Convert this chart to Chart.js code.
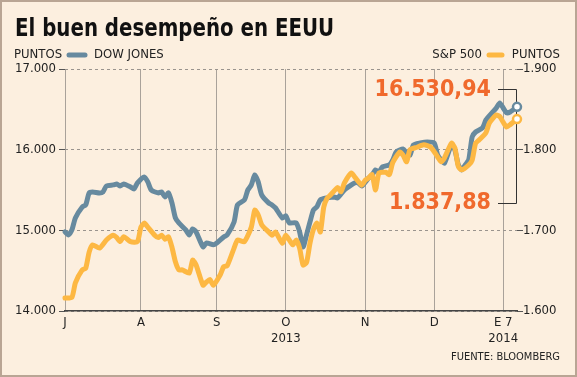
<!DOCTYPE html>
<html>
<head>
<meta charset="utf-8">
<script src="https://cdn.jsdelivr.net/npm/chart.js@4/dist/chart.umd.min.js"></script>
<style>
  html, body { margin: 0; padding: 0; background: #fcefdf; }
  #wrap { width: 577px; height: 377px; }
</style>
</head>
<body>
<div id="wrap"><canvas id="grafico" width="577" height="377"></canvas></div>
<script>
// sesiones bursatiles desde el 1 de julio de 2013 (0) hasta el 7 de enero de 2014 (131)
var monthTicks = [0, 22, 44, 64, 87, 107, 127]
var monthLabels = ['J', 'A', 'S', ['O', '2013'], 'N', 'D', ['E 7', '2014']]

var leftTicks = [14000, 15000, 16000, 17000]
var rightTicks = [1600, 1700, 1800, 1900]

var dowDays = [0, 1, 2, 3, 5, 6, 7, 8, 10, 11, 12, 14, 15, 16, 17, 19, 20, 21, 23, 24,
  25, 27, 28, 29, 30, 31, 32, 33, 35, 36, 37, 38, 40, 41, 43, 44, 46, 47, 49, 50,
  52, 53, 54, 55, 56, 57, 59, 60, 61, 63, 64, 65, 67, 68, 69, 70, 71, 72, 73, 74,
  76, 78, 79, 81, 83, 84, 85, 86, 88, 89, 90, 91, 92, 94, 95, 96, 98, 99, 100, 101,
  103, 105, 107, 108, 109, 110, 112, 113, 114, 115, 116, 117, 118, 119, 121, 122, 124, 125, 126, 127,
  128, 129, 131]
var dowValues = [14980, 14943, 15005, 15154, 15290, 15315, 15464, 15476, 15464, 15476, 15550, 15563, 15575, 15550, 15575, 15538, 15513, 15588, 15662, 15600,
  15501, 15464, 15476, 15414, 15464, 15340, 15154, 15092, 15005, 14943, 15018, 14980, 14795, 14844, 14820, 14844, 14918, 14943, 15104, 15315,
  15377, 15501, 15563, 15687, 15600, 15439, 15340, 15315, 15278, 15154, 15180, 15092, 15092, 14980, 14795, 14943, 15104, 15253, 15290, 15377,
  15402, 15414, 15402, 15501, 15563, 15588, 15588, 15550, 15649, 15687, 15749, 15724, 15786, 15811, 15873, 15972, 16009, 15959, 15934, 16058,
  16083, 16095, 16083, 15934, 15873, 15835, 16058, 15996, 15811, 15749, 15811, 15873, 16157, 16219, 16269, 16368, 16467, 16517, 16579, 16517,
  16455, 16467, 16530.94]

var spDays = [0, 2, 3, 5, 6, 7, 8, 10, 12, 14, 15, 16, 17, 19, 21, 22, 23, 24, 26, 27,
  28, 29, 30, 31, 32, 33, 34, 36, 37, 38, 40, 41, 42, 43, 45, 46, 47, 49, 50, 52,
  54, 55, 56, 57, 59, 60, 61, 63, 64, 66, 67, 68, 69, 70, 71, 72, 73, 74, 75, 76,
  77, 79, 80, 81, 83, 84, 86, 87, 88, 89, 90, 91, 93, 94, 95, 97, 98, 99, 100, 102,
  104, 106, 108, 109, 110, 112, 113, 114, 115, 117, 118, 119, 120, 122, 123, 125, 126, 127, 128, 129,
  131]
var spValues = [1616, 1617, 1635, 1651, 1653, 1673, 1682, 1678, 1688, 1694, 1691, 1686, 1692, 1686, 1686, 1704, 1709, 1704, 1694, 1691,
  1694, 1689, 1692, 1679, 1661, 1651, 1651, 1647, 1663, 1657, 1632, 1636, 1639, 1632, 1645, 1655, 1656, 1678, 1688, 1686,
  1704, 1725, 1719, 1707, 1698, 1694, 1698, 1684, 1694, 1682, 1688, 1678, 1657, 1660, 1684, 1701, 1709, 1698, 1729, 1740,
  1744, 1753, 1748, 1759, 1771, 1766, 1756, 1762, 1765, 1769, 1750, 1771, 1772, 1769, 1784, 1797, 1793, 1785, 1800, 1803,
  1806, 1803, 1791, 1785, 1790, 1808, 1802, 1779, 1775, 1781, 1787, 1808, 1812, 1821, 1833, 1843, 1841, 1834, 1828, 1831,
  1837.88]

var azul = '#678a9f'
var amarillo = '#fdb843'
var naranja = '#f0692c'
var fuente = "'DejaVu Sans Condensed', 'DejaVu Sans', sans-serif"

function puntos(dias, valores) {
  return dias.map(function (d, i) { return { x: d, y: valores[i] } })
}

function miles(v) {
  return String(v).replace(/\B(?=(\d{3})+(?!\d))/g, '.')
}

function soloUltimo(valor) {
  return function (c) { return c.dataIndex === c.dataset.data.length - 1 ? valor : 0 }
}

var textos = {
  id: 'textos',
  beforeDraw: function (chart) {
    var c = chart.ctx
    c.save()
    c.fillStyle = '#fcefdf'
    c.fillRect(0, 0, chart.width, chart.height)
    c.restore()
  },
  beforeDatasetsDraw: function (chart) {
    // corchete que une los ultimos valores, por debajo de los circulos
    var c = chart.ctx
    c.save()
    c.lineWidth = 1
    c.strokeStyle = '#333'
    c.beginPath()
    c.moveTo(498, 89.5); c.lineTo(516.5, 89.5); c.lineTo(516.5, 203.5); c.lineTo(498, 203.5)
    c.stroke()
    c.restore()
  },
  afterDraw: function (chart) {
    var c = chart.ctx
    c.save()
    c.fillStyle = '#111'
    c.textBaseline = 'alphabetic'
    c.font = 'bold 25px ' + fuente
    // el titulo original es mas estrecho: se comprime en horizontal
    c.save()
    c.translate(15, 36)
    c.scale(0.88, 1)
    c.fillText('El buen desempeño en EEUU', 0, 0)
    c.restore()

    c.font = '13px ' + fuente
    c.textBaseline = 'middle'
    c.fillStyle = '#222'
    c.textAlign = 'left'
    c.fillText('PUNTOS', 14, 55)
    c.fillText('DOW JONES', 94, 55)
    c.textAlign = 'right'
    c.fillText('S&P 500', 482, 55)
    c.fillText('PUNTOS', 560, 55)

    c.lineCap = 'round'
    c.lineWidth = 5
    c.strokeStyle = azul
    c.beginPath(); c.moveTo(69, 55); c.lineTo(85, 55); c.stroke()
    c.strokeStyle = amarillo
    c.beginPath(); c.moveTo(489, 55); c.lineTo(502, 55); c.stroke()

    c.font = '11px ' + fuente
    c.fillStyle = '#222'
    c.fillText('FUENTE: BLOOMBERG', 560, 357)

    c.font = 'bold 23px ' + fuente
    c.fillStyle = naranja
    c.fillText('16.530,94', 491, 90)
    c.fillText('1.837,88', 491, 203)

    c.lineWidth = 2
    c.strokeStyle = '#b9a594'
    c.strokeRect(1, 1, chart.width - 2, chart.height - 2)
    c.restore()
  }
}

var ctx = document.getElementById('grafico')

var grafico = new Chart(ctx, {
  type: 'line',
  data: {
    datasets: [{
      label: 'S&P 500',
      data: puntos(spDays, spValues),
      yAxisID: 'y2',
      borderColor: amarillo,
      borderWidth: 5,
      tension: 0.2,
      borderJoinStyle: 'round',
      borderCapStyle: 'round',
      pointRadius: soloUltimo(4),
      pointBorderWidth: 2.5,
      pointBackgroundColor: '#fff',
      pointBorderColor: amarillo,
      clip: false,
      order: 0
    },
    {
      label: 'DOW JONES',
      data: puntos(dowDays, dowValues),
      yAxisID: 'y',
      borderColor: azul,
      borderWidth: 5,
      tension: 0.2,
      borderJoinStyle: 'round',
      borderCapStyle: 'round',
      pointRadius: soloUltimo(4),
      pointBorderWidth: 2.5,
      pointBackgroundColor: '#fff',
      pointBorderColor: azul,
      clip: false,
      order: 1
    }]
  },
  options: {
    responsive: false,
    animation: false,
    layout: { padding: { top: 69, left: 0, right: 0, bottom: 0 } },
    plugins: {
      legend: { display: false },
      tooltip: { enabled: false }
    },
    scales: {
      x: {
        type: 'linear',
        min: 0,
        max: 131,
        afterBuildTicks: function (s) {
          s.ticks = monthTicks.map(function (v) { return { value: v } })
        },
        afterFit: function (s) { s.height = 66 },
        ticks: {
          autoSkip: false,
          maxRotation: 0,
          padding: 4,
          color: '#222',
          font: { family: fuente, size: 13 },
          callback: function (v, i) { return monthLabels[i] }
        },
        grid: { color: '#a9a29a', lineWidth: 1, drawTicks: false },
        border: { display: true, color: '#444', width: 1.5 }
      },
      y: {
        position: 'left',
        min: 14000,
        max: 17000,
        afterBuildTicks: function (s) {
          s.ticks = leftTicks.map(function (v) { return { value: v } })
        },
        afterFit: function (s) { s.width = 65 },
        ticks: {
          padding: 3,
          color: '#222',
          font: { family: fuente, size: 13 },
          callback: function (v) { return miles(v) }
        },
        grid: { color: '#9a948e', tickColor: '#555', tickLength: 6, lineWidth: 1 },
        border: { display: false, dash: [3, 3] }
      },
      y2: {
        position: 'right',
        min: 1600,
        max: 1900,
        afterBuildTicks: function (s) {
          s.ticks = rightTicks.map(function (v) { return { value: v } })
        },
        afterFit: function (s) { s.width = 60 },
        ticks: {
          padding: 0,
          color: '#222',
          font: { family: fuente, size: 13 },
          callback: function (v) { return miles(v) }
        },
        grid: { drawOnChartArea: false, tickColor: '#555', tickLength: 6 },
        border: { display: false }
      }
    }
  },
  plugins: [textos]
});
</script>
</body>
</html>
